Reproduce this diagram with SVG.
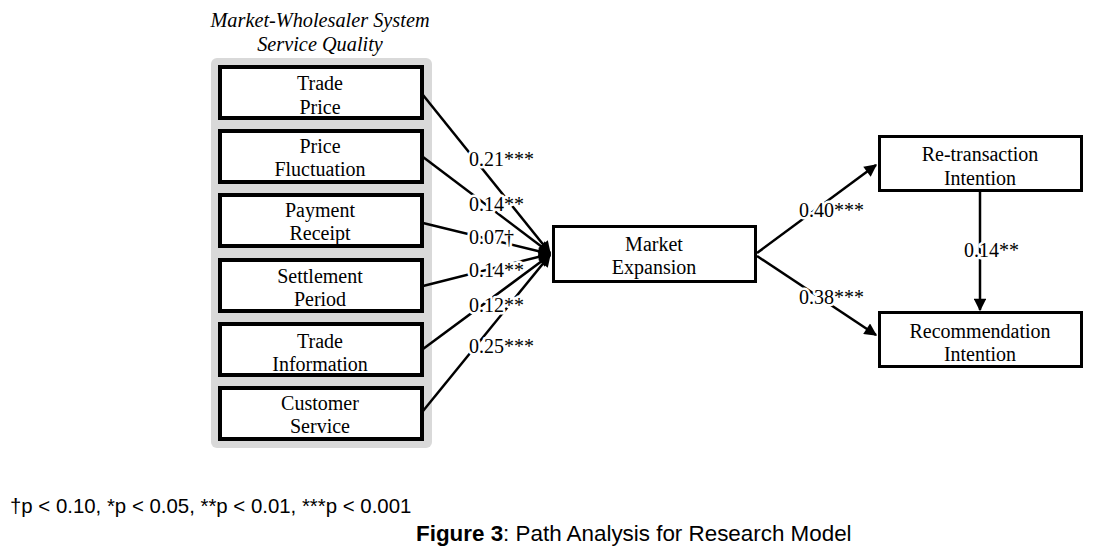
<svg xmlns="http://www.w3.org/2000/svg" width="1100" height="558" viewBox="0 0 1100 558">
<style>
.box{fill:#fff;stroke:#000;stroke-width:4}
.box2{fill:#fff;stroke:#000;stroke-width:3}
.t{font-family:"Liberation Serif","Times New Roman",serif;font-size:20px;fill:#000;text-anchor:middle}
.lab{font-family:"Liberation Serif","Times New Roman",serif;font-size:20px;fill:#000;paint-order:stroke;stroke:#fff;stroke-width:5px;stroke-linejoin:round}
.ttl{font-family:"Liberation Serif","Times New Roman",serif;font-size:20.3px;font-style:italic;fill:#000;text-anchor:middle}
.con{stroke:#000;stroke-width:2.5;fill:none}
.sans{font-family:"Liberation Sans",Arial,sans-serif;fill:#000}
</style>
<defs>
<marker id="ah" viewBox="0 0 10 10" refX="9" refY="5" markerWidth="6" markerHeight="5" markerUnits="strokeWidth" orient="auto">
<path d="M0,0 L10,5 L0,10 z" fill="#000"/>
</marker>
</defs>
<rect width="1100" height="558" fill="#fff"/>
<g id="title">
<text class="ttl" x="320" y="27">Market-Wholesaler System</text>
<text class="ttl" x="320" y="51">Service Quality</text>
</g>
<rect id="container" x="211" y="58" width="221" height="390" rx="6" fill="#d9d9d9"/>
<g id="n1"><rect class="box" x="220" y="67" width="202" height="51"/><text class="t" x="320" y="90">Trade</text><text class="t" x="320" y="114">Price</text></g>
<g id="n2"><rect class="box" x="220" y="131" width="202" height="51"/><text class="t" x="320" y="153">Price</text><text class="t" x="320" y="176">Fluctuation</text></g>
<g id="n3"><rect class="box" x="220" y="195" width="202" height="51"/><text class="t" x="320" y="217">Payment</text><text class="t" x="320" y="240">Receipt</text></g>
<g id="n4"><rect class="box" x="220" y="260" width="202" height="51"/><text class="t" x="320" y="283">Settlement</text><text class="t" x="320" y="306">Period</text></g>
<g id="n5"><rect class="box" x="220" y="324" width="202" height="51"/><text class="t" x="320" y="348">Trade</text><text class="t" x="320" y="371">Information</text></g>
<g id="n6"><rect class="box" x="220" y="388" width="202" height="51"/><text class="t" x="320" y="410">Customer</text><text class="t" x="320" y="433">Service</text></g>
<g id="market"><rect class="box2" x="553.5" y="226.5" width="202" height="55"/><text class="t" x="654" y="251">Market</text><text class="t" x="654" y="274">Expansion</text></g>
<g id="retrans"><rect class="box2" x="879.5" y="136.5" width="202" height="54"/><text class="t" x="980" y="161">Re-transaction</text><text class="t" x="980" y="185">Intention</text></g>
<g id="recommend"><rect class="box2" x="879.5" y="312.5" width="202" height="54"/><text class="t" x="980" y="338">Recommendation</text><text class="t" x="980" y="361">Intention</text></g>
<g id="connectors">
<line class="con" x1="423" y1="95" x2="550" y2="253" marker-end="url(#ah)"/>
<line class="con" x1="423" y1="157" x2="550" y2="253" marker-end="url(#ah)"/>
<line class="con" x1="423" y1="223" x2="550" y2="254" marker-end="url(#ah)"/>
<line class="con" x1="423" y1="286" x2="550" y2="254" marker-end="url(#ah)"/>
<line class="con" x1="423" y1="349" x2="550" y2="255" marker-end="url(#ah)"/>
<line class="con" x1="423" y1="411" x2="550" y2="255" marker-end="url(#ah)"/>
<line class="con" x1="757" y1="253" x2="876" y2="165" marker-end="url(#ah)"/>
<line class="con" x1="757" y1="256" x2="876" y2="335" marker-end="url(#ah)"/>
<line class="con" x1="980" y1="192" x2="980" y2="310" marker-end="url(#ah)"/>
</g>
<g id="labels">
<text class="lab" x="469" y="166">0.21***</text>
<text class="lab" x="469" y="211">0.14**</text>
<text class="lab" x="469" y="244">0.07†</text>
<text class="lab" x="469" y="277">0.14**</text>
<text class="lab" x="469" y="312">0.12**</text>
<text class="lab" x="469" y="353">0.25***</text>
<text class="lab" x="799" y="217">0.40***</text>
<text class="lab" x="799" y="304">0.38***</text>
<text class="lab" x="964" y="257">0.14**</text>
</g>
<g id="footer">
<text class="sans" x="10" y="513" font-size="20.4">†p &lt; 0.10, *p &lt; 0.05, **p &lt; 0.01, ***p &lt; 0.001</text>
<text class="sans" x="416" y="541" font-size="22.4"><tspan font-weight="bold">Figure 3</tspan>: Path Analysis for Research Model</text>
</g>
</svg>
